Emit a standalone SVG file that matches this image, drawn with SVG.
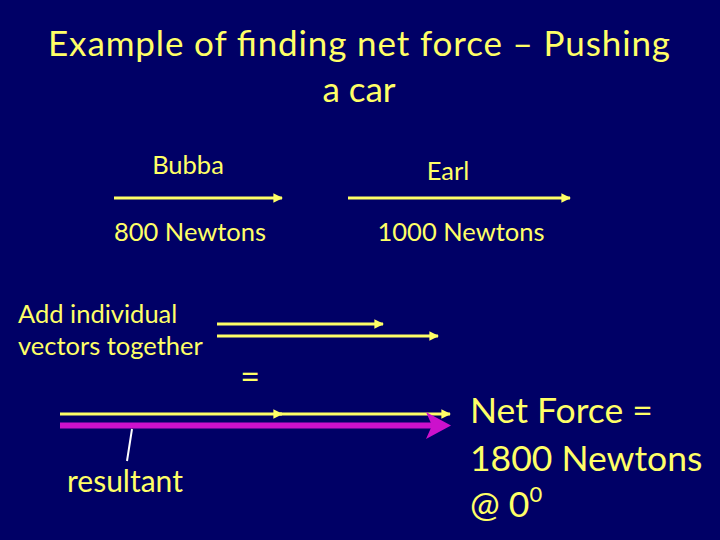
<svg xmlns="http://www.w3.org/2000/svg" width="720" height="540" viewBox="0 0 720 540">
  <style>
    text { font-family: Lato, "Open Sans", "Liberation Sans", sans-serif; fill: #FFFF66; }
    .title { font-size: 35px; text-anchor: middle; }
    .lbl { font-size: 25.5px; }
    .mid { text-anchor: middle; }
    .big { font-size: 35.5px; }
    .yl { stroke: #FFFF66; stroke-width: 3; fill: none; }
    .mg { stroke: #CC11CC; stroke-width: 6; fill: none; }
  </style>
  <defs>
    <marker id="ah" viewBox="0 0 10 10" refX="9" refY="5" markerWidth="3.8" markerHeight="3.2" orient="auto" markerUnits="strokeWidth">
      <path d="M0,0 L10,5 L0,10 Z" fill="#FFFF66"/>
    </marker>
  </defs>
  <rect width="720" height="540" fill="#000066"/>

  <g id="title">
    <text class="title" x="359" y="56" textLength="622">Example of finding net force – Pushing</text>
    <text class="title" x="359" y="102">a car</text>
  </g>

  <g id="bubba">
    <text class="lbl mid" x="188" y="174">Bubba</text>
    <text class="lbl mid" x="190" y="241">800 Newtons</text>
  </g>
  <g id="earl">
    <text class="lbl mid" x="448" y="180">Earl</text>
    <text class="lbl mid" x="461" y="241">1000 Newtons</text>
  </g>
  <g id="add-text">
    <text class="lbl" x="18" y="323">Add individual</text>
    <text class="lbl" x="18" y="355">vectors together</text>
  </g>
  <g id="equals">
    <text class="mid" x="250" y="389" font-size="34px">=</text>
  </g>
  <g id="resultant-label">
    <text x="67" y="492" font-size="30px">resultant</text>
  </g>
  <g id="net-force">
    <text class="big" x="470" y="423">Net Force =</text>
    <text class="big" x="470" y="471">1800 Newtons</text>
    <text class="big" x="470" y="517">@ 0<tspan font-size="22px" dy="-15">0</tspan></text>
  </g>

  <g id="connectors">
    <line class="yl" x1="114" y1="198" x2="282" y2="198" marker-end="url(#ah)"/>
    <line class="yl" x1="348" y1="198" x2="570" y2="198" marker-end="url(#ah)"/>
    <line class="yl" x1="217" y1="324" x2="383" y2="324" marker-end="url(#ah)"/>
    <line class="yl" x1="217" y1="336" x2="438" y2="336" marker-end="url(#ah)"/>
    <line class="yl" x1="60" y1="414" x2="282" y2="414" marker-end="url(#ah)"/>
    <line class="yl" x1="280" y1="414" x2="450" y2="414" marker-end="url(#ah)"/>
    <line class="mg" x1="60" y1="425.5" x2="440" y2="425.5"/>
    <polygon points="426,412 451,425.5 426,439 432,425.5" fill="#CC11CC"/>
    <line x1="132" y1="429" x2="127" y2="461" stroke="#FFFFFF" stroke-width="2"/>
  </g>
</svg>
